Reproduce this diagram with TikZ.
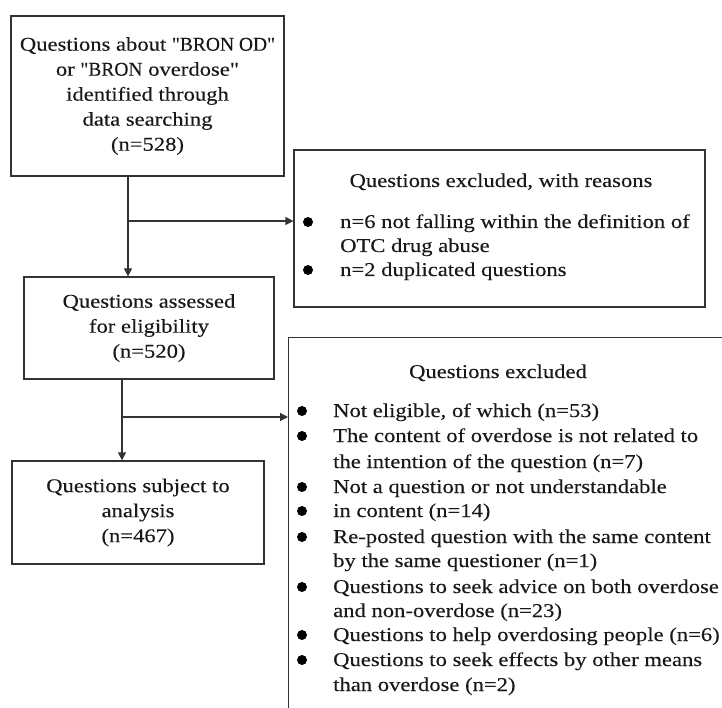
\documentclass[tikz,border=0pt]{standalone}
\usepackage{fontspec}
\setmainfont{Liberation Serif}[FakeStretch=1.16, FakeBold=0.2, Ligatures=TeXOff]
\newfontfamily\capsfont{Liberation Serif}[FakeStretch=1.0, FakeBold=0.2, Ligatures=TeXOff]
\newcommand{\bron}[1]{{\capsfont #1}}
\usetikzlibrary{arrows.meta}
\usetikzlibrary{positioning}

\tikzset{
  every node/.style={font=\fontsize{19.5}{25}\selectfont, text=black!90},
  flowbox/.style={draw=black!80, line width=1.2pt, align=center, inner sep=0pt},
  flowline/.style={draw=black!80, line width=1.2pt},
  flowarrow/.style={flowline, -{Triangle[length=8pt,width=8pt]}},
  listtext/.style={anchor=base west, inner sep=0pt},
  bulletdot/.style={fill=black, circle, inner sep=0pt, minimum size=10pt},
}

\begin{document}
\begin{tikzpicture}[x=1pt,y=-1pt]
  \useasboundingbox (0,0) rectangle (722,708);
  \clip (0,0) rectangle (722,708);

  % main column
  \node[flowbox, minimum width=273pt, minimum height=160pt] (found) at (147.5,96)
    {Questions about \bron{"BRON OD"}\\ or \bron{"BRON} overdose"\\ identified through\\ data searching\\ (n=528)};
  \node[flowbox, minimum width=250pt, minimum height=102pt] (assessed) at (149,328)
    {Questions assessed\\ for eligibility\\ (n=520)};
  \node[flowbox, minimum width=252pt, minimum height=103pt] (analysis) at (138,512.5)
    {Questions subject to\\ analysis\\ (n=467)};

  % side boxes
  \node[flowbox, minimum width=411pt, minimum height=157pt] (exclA) at (499.5,228.5) {};
  \node[flowbox, anchor=north west, minimum width=470pt, minimum height=420pt] (exclB) at (288,337) {};

  % first exclusion
  \node[listtext, anchor=base] (titleA) at (501,187) {Questions excluded, with reasons};
  \foreach \ly/\hasdot/\ltext [count=\i] in {
      228/1/{n=6 not falling within the definition of},
      252/0/{OTC drug abuse},
      276/1/{n=2 duplicated questions}}{
    \node[listtext] (reasonA\i) at (340,\ly) {\ltext};
    \ifnum\hasdot=1 \node[bulletdot] (dotA\i) at (308,\ly-6) {}; \fi
  }

  % second exclusion
  \node[listtext, anchor=base] (titleB) at (498,378) {Questions excluded};
  \foreach \ly/\hasdot/\ltext [count=\i] in {
      417/1/{Not eligible, of which (n=53)},
      442/1/{The content of overdose is not related to},
      468/0/{the intention of the question (n=7)},
      493/1/{Not a question or not understandable},
      517/1/{in content (n=14)},
      543/1/{Re-posted question with the same content},
      567/0/{by the same questioner (n=1)},
      593/1/{Questions to seek advice on both overdose},
      617/0/{and non-overdose (n=23)},
      641/1/{Questions to help overdosing people (n=6)},
      666/1/{Questions to seek effects by other means},
      691/0/{than overdose (n=2)}}{
    \node[listtext] (reasonB\i) at (333,\ly) {\ltext};
    \ifnum\hasdot=1 \node[bulletdot] (dotB\i) at (302,\ly-6) {}; \fi
  }

  % connectors
  \coordinate (splitA) at (128,221);
  \coordinate (splitB) at (122,417);
  \draw[flowline] (found.south -| splitA) -- (splitA);
  \draw[flowarrow] (splitA) -- (assessed.north -| splitA);
  \draw[flowarrow] (splitA) -- (splitA -| exclA.west);
  \draw[flowline] (assessed.south -| splitB) -- (splitB);
  \draw[flowarrow] (splitB) -- (analysis.north -| splitB);
  \draw[flowarrow] (splitB) -- (splitB -| exclB.west);
\end{tikzpicture}
\end{document}
